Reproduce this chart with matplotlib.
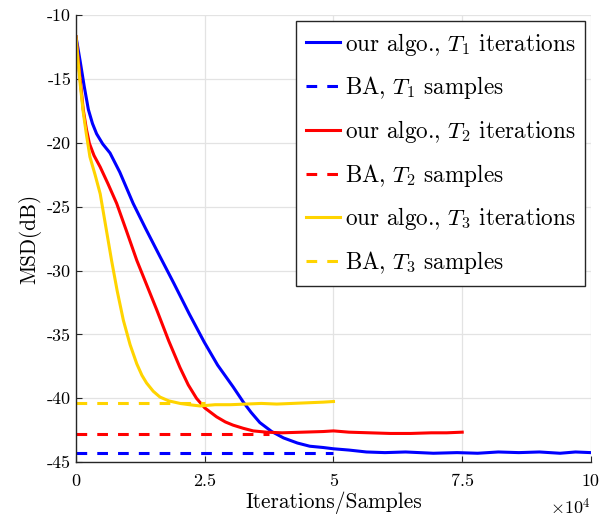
import matplotlib
matplotlib.use('Agg')
import matplotlib.pyplot as plt

plt.rcParams['font.family'] = 'cmr10'
plt.rcParams['mathtext.fontset'] = 'cm'
plt.rcParams['axes.unicode_minus'] = False

# x values in units of 1e4 iterations / samples
x_t1 = [0, 0.08, 0.16, 0.24, 0.32, 0.40, 0.52, 0.66, 0.85, 1.11, 1.35, 1.63, 1.9, 2.2, 2.49,
        2.75, 3.05, 3.25, 3.4, 3.57, 3.8, 4.03, 4.3, 4.54, 4.8, 5.0, 5.3, 5.64, 6.0, 6.4,
        6.94, 7.4, 7.8, 8.2, 8.6, 9.0, 9.4, 9.7, 10.0]
msd_t1 = [-11.7, -13.6, -15.6, -17.4, -18.5, -19.3, -20.1, -20.8, -22.3, -24.75, -26.7, -28.9,
          -31.0, -33.4, -35.6, -37.4, -39.1, -40.3, -41.1, -41.9, -42.6, -43.1, -43.5, -43.75,
          -43.85, -43.95, -44.05, -44.2, -44.25, -44.2, -44.3, -44.25, -44.3, -44.2, -44.25,
          -44.2, -44.3, -44.2, -44.25]

x_t2 = [0, 0.05, 0.10, 0.14, 0.20, 0.26, 0.35, 0.47, 0.62, 0.79, 0.98, 1.18, 1.37, 1.57, 1.8,
        2.02, 2.18, 2.34, 2.5, 2.73, 2.9, 3.05, 3.25, 3.44, 3.7, 4.0, 4.4, 4.8, 5.0, 5.3,
        5.7, 6.1, 6.5, 6.9, 7.2, 7.5]
msd_t2 = [-11.7, -13.8, -15.8, -17.4, -18.9, -20.05, -21.0, -21.9, -23.2, -24.75, -26.9, -29.2,
          -31.1, -33.1, -35.5, -37.6, -38.95, -40.0, -40.75, -41.45, -41.85, -42.1, -42.35, -42.55,
          -42.65, -42.7, -42.65, -42.6, -42.55, -42.65, -42.7, -42.75, -42.75, -42.7, -42.7,
          -42.65]

x_t3 = [0, 0.04, 0.08, 0.14, 0.20, 0.27, 0.37, 0.47, 0.58, 0.69, 0.8, 0.92, 1.05, 1.18, 1.28,
        1.37, 1.5, 1.63, 1.8, 2.02, 2.2, 2.41, 2.7, 3.0, 3.3, 3.6, 3.9, 4.2, 4.5, 4.8, 5.0]
msd_t3 = [-11.7, -13.6, -15.35, -17.6, -19.3, -21.1, -22.5, -24.0, -26.6, -29.2, -31.6, -33.9,
          -35.8, -37.3, -38.2, -38.8, -39.45, -39.9, -40.2, -40.4, -40.5, -40.6, -40.5, -40.5,
          -40.45, -40.4, -40.45, -40.4, -40.35, -40.3, -40.25]

# BA reference levels and how far they run
ba_x = [[0, 5.0], [0, 3.75], [0, 2.5]]
ba_msd = [-44.27, -42.76, -40.4]

colors = ['#0000ff', '#ff0000', '#ffd400']
labels = [r'our algo., $T_1$ iterations', r'BA, $T_1$ samples',
          r'our algo., $T_2$ iterations', r'BA, $T_2$ samples',
          r'our algo., $T_3$ iterations', r'BA, $T_3$ samples']

fig = plt.figure(figsize=(6.13, 5.17), dpi=100)
ax = fig.add_axes([0.124, 0.106, 0.840, 0.865])

curves = [(x_t1, msd_t1), (x_t2, msd_t2), (x_t3, msd_t3)]
for i, (xs, ys) in enumerate(curves):
    ax.plot(xs, ys, color=colors[i], lw=2.2, label=labels[2 * i])
    ax.plot(ba_x[i], [ba_msd[i], ba_msd[i]], color=colors[i], lw=2.2,
            dashes=(3.5, 3.3), label=labels[2 * i + 1])

ax.set_xlim(0, 10)
ax.set_ylim(-45, -10)
ax.set_xticks([0, 2.5, 5, 7.5, 10])
ax.set_xticklabels(['0', '2.5', '5', '7.5', '10'])
yt = [-45, -40, -35, -30, -25, -20, -15, -10]
ax.set_yticks(yt)
ax.set_yticklabels([str(v) for v in yt])
ax.tick_params(direction='in', labelsize=13, length=4, color='#262626')
ax.tick_params(axis='x', pad=8)
ax.grid(True, color='#e3e3e3', lw=0.9)
ax.set_axisbelow(True)
for s in ['top', 'right']:
    ax.spines[s].set_visible(False)
for s in ['left', 'bottom']:
    ax.spines[s].set_color('#262626')
    ax.spines[s].set_linewidth(1.0)

ax.set_xlabel('Iterations/Samples', fontsize=15.4, labelpad=2)
ax.set_ylabel('MSD(dB)', fontsize=15.2, labelpad=4)
ax.text(1.0, -0.078, r'$\times10^4$', transform=ax.transAxes, ha='right', va='top', fontsize=13)

leg = ax.legend(loc='upper right', fontsize=16.7, fancybox=False, edgecolor='#262626',
                framealpha=1, labelspacing=0.72, handlelength=1.5, handletextpad=0.2,
                borderpad=0.42, borderaxespad=0.25)
leg.get_frame().set_linewidth(1.0)

fig.savefig('out.png', dpi=100)
